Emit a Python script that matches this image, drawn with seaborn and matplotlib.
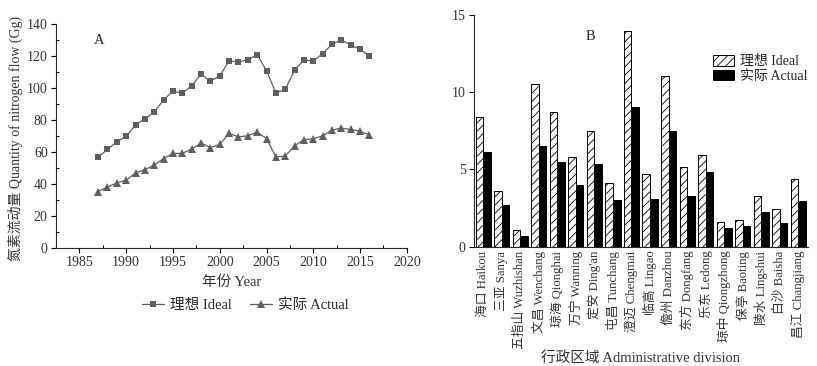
import matplotlib
matplotlib.use("Agg")
import matplotlib.pyplot as plt
import seaborn as sns
import pandas as pd
from matplotlib.patches import Patch
from matplotlib.lines import Line2D
from matplotlib.ticker import MultipleLocator

# ---- data ----
years = list(range(1987, 2017))
ideal_flow = [56.9, 61.7, 66.5, 69.8, 77.1, 80.8, 85.0, 92.7, 98.1, 96.9,
              101.5, 108.8, 104.4, 107.5, 117.1, 116.3, 117.7, 121.0, 110.8, 97.1,
              99.2, 111.3, 117.5, 117.1, 121.5, 127.5, 130.2, 126.9, 124.4, 119.8]
actual_flow = [35.4, 38.1, 40.8, 42.5, 46.9, 49.0, 51.9, 56.0, 59.2, 59.2,
               61.9, 65.8, 62.9, 64.8, 71.7, 69.6, 70.2, 72.5, 68.5, 57.1,
               57.5, 64.0, 67.9, 68.3, 70.2, 73.8, 75.0, 74.2, 73.1, 70.8]

regions = ["海口 Haikou", "三亚 Sanya", "五指山 Wuzhishan", "文昌 Wenchang",
           "琼海 Qionghai", "万宁 Wanning", "定安 Ding'an", "屯昌 Tunchang",
           "澄迈 Chengmai", "临高 Lingao", "儋州 Danzhou", "东方 Dongfang",
           "乐东 Ledong", "琼中 Qiongzhong", "保亭 Baoting", "陵水 Lingshui",
           "白沙 Baisha", "昌江 Changjiang"]
ideal_region = [8.42, 3.59, 1.04, 10.52, 8.72, 5.80, 7.47, 4.11, 13.94,
                4.70, 11.04, 5.13, 5.93, 1.58, 1.69, 3.29, 2.45, 4.37]
actual_region = [6.13, 2.66, 0.71, 6.52, 5.48, 3.98, 5.32, 3.03, 9.03,
                 3.05, 7.47, 3.29, 4.80, 1.23, 1.32, 2.25, 1.52, 2.97]

LABEL_IDEAL = "理想 Ideal"
LABEL_ACTUAL = "实际 Actual"

sns.set_theme(style="ticks")
plt.rcParams["font.family"] = ["Liberation Serif", "Noto Sans CJK SC", "DejaVu Sans"]
plt.rcParams["font.size"] = 10
plt.rcParams["hatch.linewidth"] = 0.6
plt.rcParams["axes.linewidth"] = 0.8

GRAY = "#5f5f5f"
TXT = "#333333"

fig = plt.figure(figsize=(8.17, 3.66), dpi=100)
ax1 = fig.add_axes([0.0685, 0.322, 0.4295, 0.612])
ax2 = fig.add_axes([0.580, 0.3265, 0.409, 0.6325])

# ---- panel A ----
line_df = pd.DataFrame({"year": years, "ideal": ideal_flow, "actual": actual_flow})
sns.lineplot(data=line_df, x="year", y="ideal", ax=ax1, color=GRAY, marker="s",
             markersize=5, markeredgewidth=0, linewidth=0.9)
sns.lineplot(data=line_df, x="year", y="actual", ax=ax1, color=GRAY, marker="^",
             markersize=5.5, markeredgewidth=0, linewidth=0.9)
ax1.set_xlim(1982.5, 2020)
ax1.set_ylim(0, 140)
ax1.xaxis.set_major_locator(MultipleLocator(5))
ax1.xaxis.set_minor_locator(MultipleLocator(2.5))
ax1.yaxis.set_major_locator(MultipleLocator(20))
ax1.yaxis.set_minor_locator(MultipleLocator(10))
ax1.tick_params(which="major", direction="out", length=3.5, width=0.8, color="black",
                labelsize=10, labelcolor=TXT, pad=2.5)
ax1.tick_params(which="minor", direction="in", length=2.5, width=0.8, color="black")
for s in ["top", "right"]:
    ax1.spines[s].set_visible(False)
ax1.set_xlabel("年份 Year", fontsize=10.5, color=TXT, labelpad=4)
ax1.set_ylabel("氮素流动量 Quantity of nitrogen flow (Gg)", fontsize=10, color=TXT)
ax1.yaxis.set_label_coords(-0.095, 0.49)
ax1.text(0.108, 0.955, "A", transform=ax1.transAxes, fontsize=10.5, va="top")
handles = [Line2D([], [], color=GRAY, marker="s", markersize=5, markeredgewidth=0, linewidth=0.9),
           Line2D([], [], color=GRAY, marker="^", markersize=5.5, markeredgewidth=0, linewidth=0.9)]
ax1.legend(handles, [LABEL_IDEAL, LABEL_ACTUAL], loc="center", bbox_to_anchor=(0.54, -0.255),
           ncol=2, frameon=False, handlelength=1.5, columnspacing=1.3, handletextpad=0.4,
           fontsize=10.5)

# ---- panel B ----
bar_df = pd.DataFrame({
    "region": regions * 2,
    "value": ideal_region + actual_region,
    "kind": [LABEL_IDEAL] * len(regions) + [LABEL_ACTUAL] * len(regions),
})
sns.barplot(data=bar_df, x="region", y="value", hue="kind", ax=ax2,
            palette={LABEL_IDEAL: "white", LABEL_ACTUAL: "black"},
            edgecolor="black", linewidth=0.7, width=0.82, saturation=1, legend=False)
n = len(regions)
for p in ax2.patches[:n]:
    p.set_hatch("////")
ax2.set_xlim(-0.5, 17.52)
ax2.set_ylim(0, 15)
ax2.yaxis.set_major_locator(MultipleLocator(5))
ax2.tick_params(axis="y", direction="out", length=3.5, width=0.8, color="black",
                labelsize=10, labelcolor=TXT, pad=2.5)
ax2.tick_params(axis="x", length=0, labelsize=9.2, rotation=90, labelcolor=TXT, pad=3)
for s in ["top", "right"]:
    ax2.spines[s].set_visible(False)
ax2.set_xlabel("行政区域 Administrative division", fontsize=10.5, color=TXT, labelpad=2)
ax2.set_ylabel("")
ax2.text(0.335, 0.935, "B", transform=ax2.transAxes, fontsize=10.5, va="top")
leg_handles = [Patch(facecolor="white", edgecolor="black", hatch="////", linewidth=0.7),
               Patch(facecolor="black", edgecolor="black", linewidth=0.7)]
ax2.legend(leg_handles, [LABEL_IDEAL, LABEL_ACTUAL], loc="upper left",
           bbox_to_anchor=(0.70, 0.85), frameon=False, handlelength=1.5, handleheight=0.8,
           handletextpad=0.4, labelspacing=0.1, fontsize=10, borderaxespad=0)

fig.savefig("out.png", dpi=100)
